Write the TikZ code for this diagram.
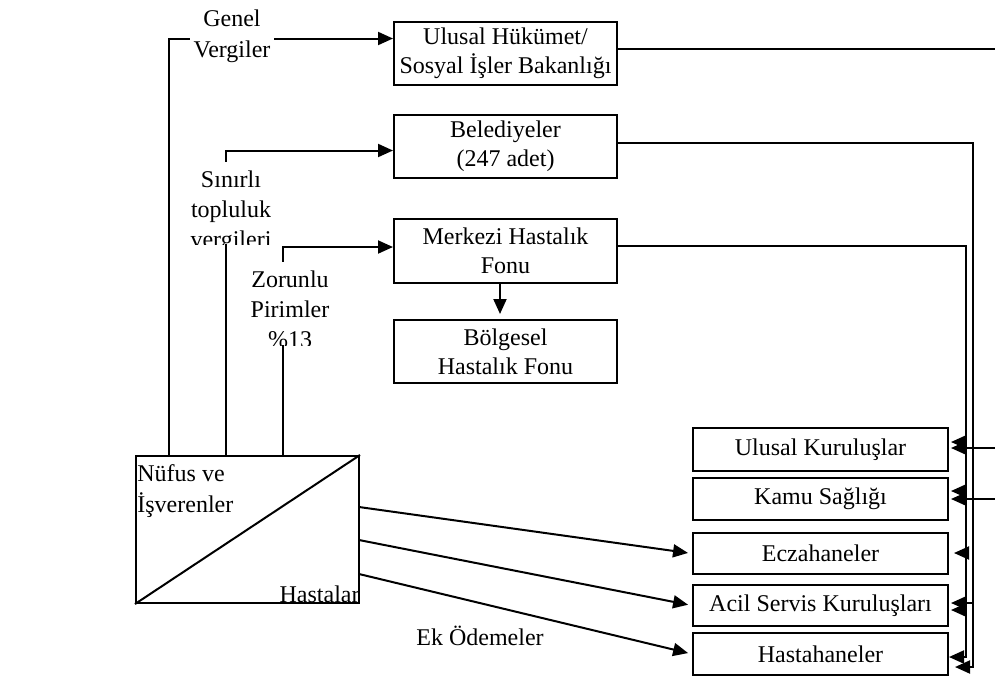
\documentclass[tikz,border=0pt]{standalone}
\usepackage{fontspec}
\setmainfont{Liberation Serif}
\usetikzlibrary{arrows.meta,calc}
\begin{document}
\begin{tikzpicture}[x=0.5pt,y=-0.5pt,
  every node/.style={font=\fontsize{12}{14.5}\selectfont},
  box/.style={draw,line width=1pt,align=center,inner sep=1pt},
  rbox/.style={box,minimum width=127.5pt},
  cbox/.style={box,minimum width=111.5pt,minimum height=31.5pt},
  ln/.style={line width=1pt},
  arr/.style={line width=1pt,-{Triangle[length=7.5pt,width=6.5pt]}},
  lbl/.style={fill=white,align=center,inner sep=2pt,font=\fontsize{12}{15.5}\selectfont}]
\useasboundingbox (0,0) rectangle (995,676);

% central boxes
\node[cbox] (ulusal) at (505.5,53.5) {Ulusal Hükümet/\\Sosyal İşler Bakanlığı};
\node[cbox] (beled) at (505.5,146.5) {Belediyeler\\(247 adet)};
\node[cbox,minimum height=32pt] (merkezi) at (505.5,251) {Merkezi Hastalık\\Fonu};
\node[cbox] (bolgesel) at (505.5,351.5) {Bölgesel\\Hastalık Fonu};

% right boxes
\node[rbox,minimum height=21.5pt] (uk) at (820.5,449.5) {Ulusal Kuruluşlar};
\node[rbox,minimum height=21pt] (ks) at (820.5,499) {Kamu Sağlığı};
\node[rbox,minimum height=20.5pt] (ecz) at (820.5,553.5) {Eczahaneler};
\node[rbox,minimum height=20.5pt] (acil) at (820.5,605.5) {Acil Servis Kuruluşları};
\node[rbox,minimum height=21pt] (hast) at (820.5,654) {Hastahaneler};

% population box
\node[draw,line width=1pt,minimum width=111.5pt,minimum height=73.5pt,inner sep=0pt] (nufus) at (247.5,529.5) {};
\draw[ln] (nufus.south west) -- (nufus.north east);
\node[anchor=base west,inner sep=0pt] (nufus1) at (137,481) {Nüfus ve};
\node[anchor=base west,inner sep=0pt] (nufus2) at (137,512) {İşverenler};
\node[anchor=base east,inner sep=0pt] (hastalar) at (360,602) {Hastalar};

% coordinates on top of population box
\coordinate (g1) at (169,456);
\coordinate (g2) at (226,456);
\coordinate (g3) at (283,456);

% financing flows
\draw[arr] (g1) |- ([yshift=7.5pt]ulusal.west);
\draw[arr] (g2) |- ([yshift=-2pt]beled.west);
\draw[arr] (g3) |- ([yshift=2pt]merkezi.west);
\draw[arr] ([xshift=-2.75pt]merkezi.south) -- ([xshift=-2.75pt,yshift=2.5pt]bolgesel.north);

% labels on flows
\node[lbl] (genel) at (232,36) {Genel\\Vergiler};
\fill[white] (190,162) rectangle (276,244);
\begin{scope}
  \clip (190,162) rectangle (276,244);
  \node[align=center,font=\fontsize{12}{15}\selectfont] (sinirli) at (231,212) {Sınırlı\\topluluk\\vergileri};
\end{scope}
\fill[white] (240,262) rectangle (338,345);
\begin{scope}
  \clip (240,262) rectangle (338,345);
  \node[align=center,font=\fontsize{12}{15}\selectfont] (zorunlu) at (290,309) {Zorunlu\\Pirimler\\\%13};
\end{scope}

% right-hand routing
\coordinate (edgeTop) at (995,49);
\draw[ln] ([yshift=2.25pt]ulusal.east) -- (edgeTop);
\coordinate (bR) at (973,667);
\coordinate (mR) at (966,657);
\draw[arr,shorten >=3pt] ([yshift=2pt]beled.east) -| (bR) -- (hast.east |- bR);
\draw[arr] ([yshift=2.5pt]merkezi.east) -| (mR) -- (hast.east |- mR);

\coordinate (e1) at (995,448);
\coordinate (e2) at (995,499);
\draw[arr,shorten >=1pt] (e1) -- (uk.east |- e1);
\draw[arr,shorten >=1pt] (e2) -- (ks.east |- e2);

\coordinate (m1) at (966,442);
\coordinate (m2) at (966,491);
\coordinate (m3) at (966,553);
\coordinate (b4) at (973,603);
\coordinate (m4) at (966,610);
\draw[arr,shorten >=1pt] (m1) -- (uk.east |- m1);
\draw[arr,shorten >=1pt] (m2) -- (ks.east |- m2);
\draw[arr,shorten >=2.5pt] (m3) -- (ecz.east |- m3);
\draw[arr,shorten >=1pt] (b4) -- (acil.east |- b4);
\draw[arr,shorten >=1pt] (m4) -- (acil.east |- m4);

% payments from patients
\coordinate (n1) at (359,507);
\coordinate (n2) at (359,540);
\coordinate (n3) at (359,574);
\draw[arr,shorten >=2pt] (n1) -- (ecz.west);
\draw[arr,shorten >=2pt] (n2) -- (acil.west);
\draw[arr,shorten >=2pt] (n3) -- (hast.west);
\node[anchor=base,inner sep=0pt] (ek) at (480,645) {Ek Ödemeler};
\end{tikzpicture}
\end{document}
